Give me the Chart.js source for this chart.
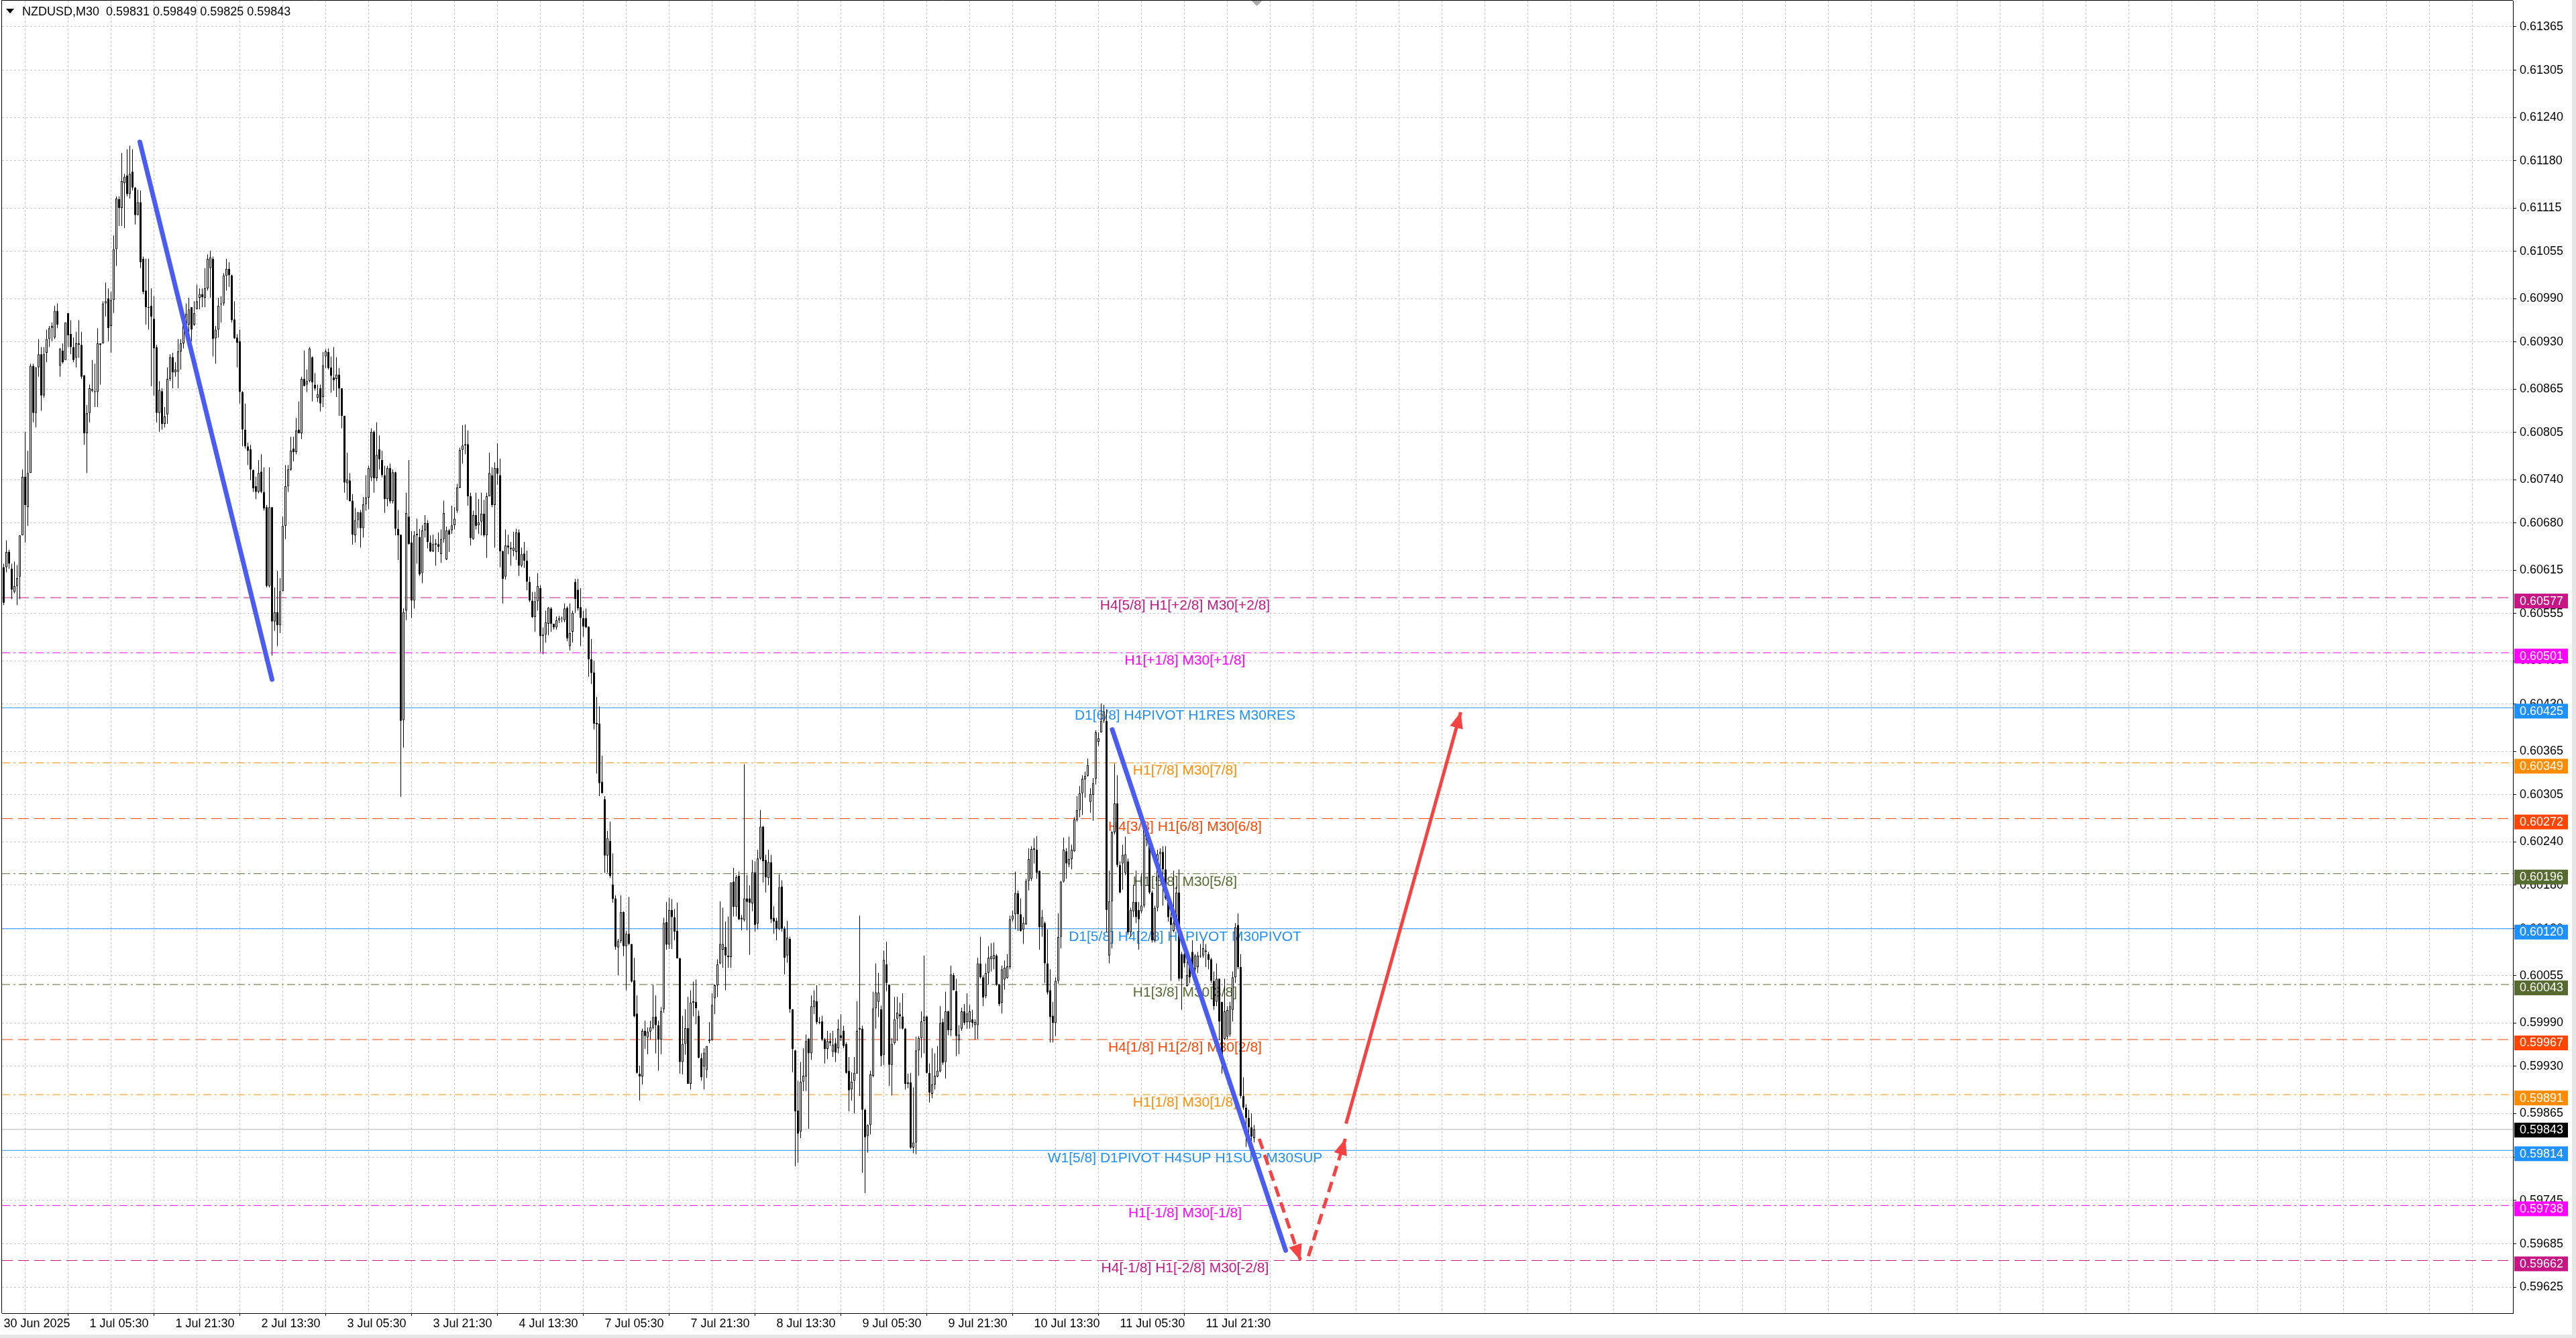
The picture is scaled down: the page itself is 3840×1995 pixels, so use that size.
<!DOCTYPE html>
<html>
<head>
<meta charset="utf-8">
<title>NZDUSD,M30</title>
<script src="https://cdn.jsdelivr.net/npm/chart.js@4.4.1/dist/chart.umd.min.js"></script>
<style>
  html, body { margin: 0; padding: 0; background: #fff; overflow: hidden; }
  #wrap { width: 3840px; height: 1995px; }
</style>
</head>
<body>
<div id="wrap"><canvas id="chart" width="3840" height="1995"></canvas></div>
<script>
/* NZDUSD M30 — velas + niveles Murrey + flechas de escenario
   Precios de las velas en puntos (x 1e-5), barra 0 = 30 Jun 13:30 */

const SYMBOL = 'NZDUSD,M30';

const OPEN = [
  60619,60619,60640,60617,60585,60593,60606,60663,60744,60702,
  60749,60897,60832,60895,60913,60856,60915,60934,60949,60936,
  60973,60897,60918,60905,60970,60941,60923,60908,60926,60926,
  60884,60804,60832,60862,60861,60861,60928,60928,60983,60990,
  60952,60988,61058,61127,61115,61149,61160,61134,61165,61143,
  61105,61123,61045,61001,60978,60980,60962,60923,60832,60862,
  60817,60830,60879,60909,60888,60889,60917,60928,60954,60954,
  60978,60954,60975,60991,60996,60991,61004,61032,61045,60935,
  60947,60982,60983,61021,61031,61022,60961,60936,60931,60861,
  60809,60786,60782,60753,60731,60723,60751,60723,60702,60593,
  60702,60544,60557,60539,60586,60676,60731,60754,60783,60778,
  60809,60804,60879,60871,60876,60909,60871,60853,60866,60854,
  60910,60916,60895,60881,60879,60885,60866,60828,60735,60739,
  60711,60663,60684,60695,60673,60706,60715,60743,60806,60742,
  60782,60767,60746,60713,60756,60710,60750,60672,60664,60408,
  60559,60689,60653,60573,60665,60661,60611,60670,60680,60653,
  60641,60650,60651,60637,60658,60630,60670,60670,60677,60697,
  60729,60781,60787,60789,60717,60658,60691,60677,60682,60693,
  60663,60717,60746,60705,60756,60746,60641,60606,60649,60646,
  60642,60640,60667,60621,60638,60628,60599,60573,60550,60572,
  60590,60524,60526,60541,60562,60541,60536,60546,60549,60546,
  60563,60510,60530,60599,60588,60564,60549,60549,60537,60492,
  60474,60404,60403,60323,60299,60221,60241,60181,60162,60094,
  60103,60143,60096,60113,60099,60049,60003,59920,59916,59979,
  59970,59978,59983,59999,59987,59967,60009,60129,60098,60146,
  60136,60117,60079,59936,59961,59983,59906,60018,60019,60000,
  59941,59930,59925,59965,59967,60024,60042,60072,60091,60095,
  60083,60081,60185,60150,60193,60133,60132,60162,60162,60155,
  60198,60127,60217,60261,60215,60190,60212,60135,60131,60120,
  60178,60120,60083,60106,60009,59952,59869,59840,59909,59916,
  59968,59948,60012,60020,59991,59992,59967,59954,59965,59950,
  59962,59955,59973,59979,59961,59924,59898,59910,59920,59981,
  59982,59870,59834,59849,59917,60010,60019,60009,59946,60071,
  60043,59932,59962,59996,60002,59999,59982,59906,59908,59818,
  59825,59952,59969,59993,59999,59921,59892,59905,59916,59923,
  59991,59936,60006,59980,60056,60034,59966,59982,60006,59991,
  59991,59995,59987,59987,60072,60053,60027,60059,60078,60078,
  60083,60043,60018,60050,60052,60067,60133,60140,60169,60140,
  60119,60126,60186,60189,60229,60229,60200,60122,60128,60072,
  60035,60000,59990,60048,60109,60185,60227,60209,60216,60227,
  60270,60284,60307,60326,60331,60295,60305,60327,60378,60391,
  60407,60407,60083,60158,60253,60293,60208,60210,60197,60213,
  60115,60144,60157,60146,60144,60152,60242,60242,60170,60104,
  60149,60223,60226,60202,60162,60136,60117,60125,60170,60085,
  60085,60041,60072,60088,60064,60067,60083,60083,60090,60085,
  60078,60048,60019,60051,60019,59968,59971,59974,60008,60053,
  60125,60067,59889,59873,59859,59846,59831
];

const HIGH = [
  60624,60656,60643,60624,60627,60622,60663,60754,60806,60780,
  60900,60900,60895,60934,60923,60923,60947,60952,60957,60980,
  60983,60921,60928,60957,60970,60960,60936,60944,60960,60944,
  60884,60843,60871,60905,60900,60949,60928,60986,61012,61004,
  60999,61077,61131,61131,61191,61162,61196,61201,61196,61144,
  61140,61139,61048,61045,61045,61004,60993,60926,60876,60866,
  60840,60895,60913,60915,60902,60934,60934,60970,60983,60991,
  60978,60986,61009,61004,61004,61032,61051,61056,61048,60952,
  60991,60993,61025,61045,61040,61023,60986,60941,60947,60862,
  60845,60791,60788,60754,60744,60767,60775,60757,60705,60757,
  60702,60591,60614,60604,60689,60760,60760,60799,60799,60825,
  60848,60882,60918,60892,60923,60910,60887,60871,60871,60916,
  60920,60921,60910,60923,60909,60894,60866,60828,60777,60749,
  60720,60701,60695,60698,60716,60746,60759,60811,60808,60819,
  60801,60780,60759,60759,60762,60754,60751,60698,60664,60562,
  60722,60767,60669,60669,60686,60672,60677,60691,60684,60663,
  60664,60658,60667,60671,60711,60675,60672,60704,60702,60734,
  60784,60815,60816,60808,60722,60697,60722,60713,60722,60712,
  60722,60777,60757,60764,60790,60769,60642,60671,60664,60654,
  60668,60672,60671,60646,60654,60642,60606,60585,60585,60611,
  60594,60536,60559,60564,60564,60541,60551,60552,60551,60569,
  60565,60569,60559,60603,60603,60590,60559,60562,60537,60520,
  60490,60440,60427,60359,60303,60255,60268,60224,60166,60106,
  60166,60144,60117,60164,60099,60080,60028,59931,59982,59993,
  59984,59993,60043,60028,59993,60012,60135,60157,60163,60161,
  60147,60156,60080,60000,60009,60026,60035,60047,60050,60007,
  59948,59955,59958,59991,60031,60043,60078,60158,60149,60130,
  60137,60184,60204,60194,60199,60139,60347,60194,60180,60215,
  60213,60229,60284,60262,60222,60229,60222,60151,60135,60195,
  60187,60123,60131,60109,60009,59953,59910,59936,59955,59974,
  59969,60028,60035,60042,59998,60000,59969,59979,59976,59979,
  59969,59995,60002,59986,59963,59943,59922,59943,60020,60138,
  59986,59872,59850,59924,60033,60072,60059,60014,60090,60102,
  60043,59969,60026,60026,60018,60031,59983,59920,59921,59901,
  59971,59972,60006,60083,60000,59934,59955,59948,59958,60013,
  59996,60033,60007,60069,60059,60051,59987,60011,60016,60031,
  60015,60008,59995,60080,60109,60056,60072,60096,60100,60101,
  60085,60044,60069,60076,60085,60138,60145,60199,60173,60162,
  60136,60189,60231,60234,60245,60248,60200,60146,60130,60119,
  60064,60019,60053,60141,60186,60246,60231,60247,60236,60274,
  60303,60317,60332,60337,60355,60314,60328,60394,60391,60431,
  60429,60423,60200,60255,60348,60332,60213,60236,60247,60217,
  60149,60181,60200,60157,60197,60263,60255,60245,60173,60152,
  60229,60231,60234,60234,60168,60144,60200,60178,60202,60088,
  60104,60083,60083,60104,60085,60088,60099,60104,60099,60088,
  60080,60061,60072,60051,60019,60051,60013,60019,60061,60128,
  60141,60085,59915,59878,59870,59865,59849
];

const LOW = [
  60567,60612,60617,60575,60583,60567,60575,60663,60653,60676,
  60749,60819,60812,60882,60835,60853,60902,60923,60931,60934,
  60949,60882,60900,60905,60923,60913,60902,60895,60908,60879,
  60788,60749,60819,60861,60840,60840,60871,60928,60965,60931,
  60915,60970,61035,61090,61090,61087,61131,61128,61139,61092,
  61105,61032,60996,60954,60947,60869,60856,60819,60806,60809,
  60812,60817,60876,60866,60882,60866,60892,60921,60952,60944,
  60931,60952,60975,60975,60978,60978,61001,60991,60910,60900,
  60936,60957,60980,61001,61006,60957,60934,60895,60845,60786,
  60783,60760,60739,60723,60713,60721,60721,60697,60591,60591,
  60497,60531,60510,60528,60586,60658,60723,60752,60765,60775,
  60804,60796,60869,60861,60874,60848,60863,60847,60834,60840,
  60894,60892,60860,60863,60854,60828,60811,60722,60712,60710,
  60650,60653,60673,60646,60660,60697,60699,60738,60722,60738,
  60754,60743,60694,60703,60707,60707,60663,60629,60302,60370,
  60546,60650,60549,60562,60624,60607,60597,60660,60645,60640,
  60640,60621,60640,60625,60653,60629,60640,60665,60671,60694,
  60728,60762,60775,60704,60649,60657,60671,60665,60663,60661,
  60632,60717,60702,60646,60733,60619,60569,60602,60637,60621,
  60634,60629,60607,60619,60618,60587,60571,60549,60530,60559,
  60502,60499,60515,60525,60530,60533,60533,60542,60543,60543,
  60517,60504,60515,60556,60559,60510,60523,60535,60468,60458,
  60395,60334,60303,60307,60197,60197,60190,60156,60091,60056,
  60100,60082,60035,60097,60046,59998,59920,59883,59905,59954,
  59947,59967,59981,59948,59924,59947,60004,60091,60092,60092,
  60104,60079,59920,59919,59946,59906,59898,59999,59988,59941,
  59910,59898,59914,59962,59965,60002,60026,60071,60066,60035,
  60066,60066,60137,60137,60132,60118,60130,60118,60084,60144,
  60116,60119,60215,60184,60170,60180,60128,60113,60104,60118,
  60116,60057,60073,60004,59922,59792,59797,59831,59896,59896,
  59844,59939,60002,59988,59988,59965,59934,59940,59958,59943,
  59936,59948,59965,59955,59920,59868,59883,59865,59920,59889,
  59783,59755,59811,59836,59915,59982,59998,59930,59932,60034,
  59903,59890,59960,59965,59982,59981,59898,59900,59816,59810,
  59809,59917,59942,59948,59920,59880,59886,59898,59915,59922,
  59932,59913,59973,59972,60035,59944,59947,59979,59987,59982,
  59982,59984,59967,59968,60051,60013,60024,60043,60061,60064,
  60041,60013,60003,60036,60051,60064,60130,60119,60117,60116,
  60099,60125,60173,60186,60210,60189,60091,60109,60045,60029,
  59963,59963,59972,60044,60093,60184,60189,60205,60202,60226,
  60268,60274,60277,60301,60330,60280,60269,60319,60372,60391,
  60404,60115,60072,60093,60250,60205,60169,60174,60194,60112,
  60109,60136,60128,60091,60141,60149,60234,60168,60101,60101,
  60144,60200,60152,60160,60130,60048,60115,60123,60048,60008,
  60067,60040,60045,60061,60056,60059,60080,60080,60067,60064,
  60045,60008,60013,59966,59920,59966,59968,59971,59992,60045,
  60064,59886,59870,59819,59825,59825,59825
];

const CLOSE = [
  60570,60640,60624,60588,60593,60604,60663,60744,60705,60749,
  60897,60832,60895,60913,60856,60913,60934,60949,60952,60973,
  60954,60921,60902,60957,60939,60923,60905,60928,60928,60882,
  60804,60832,60866,60865,60862,60928,60926,60983,60986,60949,
  60988,61058,61128,61115,61152,61158,61134,61162,61143,61105,
  61123,61040,60999,60978,60977,60965,60921,60832,60864,60817,
  60827,60879,60909,60888,60892,60917,60928,60954,60969,60975,
  60947,60970,60986,60996,60992,61004,61045,61047,60934,60947,
  60980,60983,61022,61031,61022,60960,60935,60929,60861,60809,
  60786,60780,60754,60728,60723,60749,60723,60700,60593,60702,
  60544,60557,60539,60586,60676,60731,60754,60780,60778,60808,
  60804,60879,60869,60876,60921,60874,60866,60858,60845,60898,
  60917,60894,60883,60877,60885,60866,60828,60736,60740,60710,
  60664,60684,60695,60673,60706,60715,60756,60806,60742,60774,
  60768,60746,60713,60756,60710,60750,60672,60663,60407,60557,
  60694,60651,60573,60663,60663,60609,60670,60680,60654,60641,
  60651,60652,60647,60658,60694,60670,60664,60677,60686,60729,
  60781,60787,60789,60717,60659,60691,60676,60681,60693,60663,
  60717,60749,60705,60756,60748,60641,60603,60649,60646,60644,
  60646,60667,60621,60637,60628,60599,60573,60550,60572,60593,
  60524,60526,60543,60563,60541,60536,60546,60549,60548,60562,
  60521,60528,60556,60575,60562,60549,60537,60536,60492,60473,
  60403,60402,60321,60307,60221,60245,60193,60161,60095,60103,
  60143,60096,60113,60099,60047,59999,59921,59916,59979,59972,
  59978,59984,59998,59987,59967,60006,60128,60098,60146,60136,
  60116,60079,59936,59961,59983,59906,60018,60020,60010,59942,
  59915,59949,59958,59967,60015,60042,60071,60099,60099,60083,
  60081,60184,60150,60191,60133,60135,60162,60157,60156,60198,
  60125,60217,60261,60213,60191,60212,60133,60130,60120,60177,
  60120,60080,60108,60009,59954,59868,59837,59909,59917,59965,
  59948,60013,60021,59991,59990,59967,59954,59965,59962,59960,
  59949,59982,59969,59958,59921,59897,59909,59921,59979,59983,
  59870,59832,59849,59919,60010,60032,60032,59944,60077,60045,
  59932,59961,59995,60004,59999,59982,59906,59908,59818,59825,
  59952,59969,59992,59999,59921,59894,59905,59917,59924,59990,
  59935,60006,59980,60057,60035,59972,59974,60006,59990,60003,
  60006,59990,59991,60072,60053,60025,60059,60080,60082,60084,
  60043,60016,60064,60066,60068,60133,60138,60169,60140,60117,
  60128,60186,60216,60230,60231,60197,60122,60136,60072,60032,
  59998,59990,60048,60109,60185,60229,60210,60216,60229,60271,
  60284,60307,60327,60331,60346,60306,60321,60391,60383,60407,
  60420,60146,60158,60253,60293,60208,60170,60222,60223,60115,
  60146,60157,60136,60133,60152,60258,60253,60170,60104,60149,
  60223,60226,60202,60162,60136,60125,60128,60170,60051,60051,
  60072,60056,60053,60064,60083,60083,60082,60093,60088,60077,
  60048,60013,60051,59992,59939,60006,60008,60013,60053,60122,
  60067,59889,59873,59859,59846,59833,59843
];

// Etiquetas del eje de tiempo (cada 32 barras)
const TIME_LABELS = ['30 Jun 2025','1 Jul 05:30','1 Jul 21:30','2 Jul 13:30','3 Jul 05:30',
  '3 Jul 21:30','4 Jul 13:30','7 Jul 05:30','7 Jul 21:30','8 Jul 13:30','9 Jul 05:30',
  '9 Jul 21:30','10 Jul 13:30','11 Jul 05:30','11 Jul 21:30'];
const TIME_LABEL_BARS = [0,32,64,96,128,160,192,224,256,288,320,352,384,416,448];

// Marcas del eje de precios
const PRICE_TICKS = [0.61365,0.61305,0.61240,0.61180,0.61115,0.61055,0.60990,0.60930,
  0.60865,0.60805,0.60740,0.60680,0.60615,0.60555,0.60490,0.60430,0.60365,0.60305,
  0.60240,0.60180,0.60120,0.60055,0.59990,0.59930,0.59865,0.59805,0.59745,0.59685,0.59625];

// Niveles Murrey
const LEVEL_PRICES = [0.60577,0.60501,0.60425,0.60349,0.60272,0.60196,0.60120,
  0.60043,0.59967,0.59891,0.59814,0.59738,0.59662];
const LEVEL_TEXTS = [
  'H4[5/8] H1[+2/8] M30[+2/8]',
  'H1[+1/8] M30[+1/8]',
  'D1[6/8] H4PIVOT H1RES M30RES',
  'H1[7/8] M30[7/8]',
  'H4[3/8] H1[6/8] M30[6/8]',
  'H1[5/8] M30[5/8]',
  'D1[5/8] H4[2/8] H1PIVOT M30PIVOT',
  'H1[3/8] M30[3/8]',
  'H4[1/8] H1[2/8] M30[2/8]',
  'H1[1/8] M30[1/8]',
  'W1[5/8] D1PIVOT H4SUP H1SUP M30SUP',
  'H1[-1/8] M30[-1/8]',
  'H4[-1/8] H1[-2/8] M30[-2/8]'
];

// Líneas de tendencia y flechas: [barra, precio]
const BLUE_LINES = [
  [[50.75, 0.61206], [100, 0.60464]],
  [[413.1, 0.60395], [477.75, 0.59676]]
];
const RED_LEGS = [
  [[467.9, 0.59830], [483.3, 0.59662]],
  [[486.25, 0.59668], [500, 0.59830]],
  [[500.25, 0.59851], [543, 0.60419]]
];

// ── estilos ─────────────────────────────────────────────
const DASH = [16, 8], DASHDOT = [12, 5, 3, 5], SOLID = [];
const LEVEL_COLORS = ['#C71585','#FF00FF','#1E90FF','#FF8C00','#FF4500','#556B2F','#1E90FF',
  '#556B2F','#FF4500','#FF8C00','#1E90FF','#FF00FF','#C71585'];
const LEVEL_DASHES = [DASH, DASHDOT, SOLID, DASHDOT, DASH, DASHDOT, SOLID, DASHDOT, DASH, DASHDOT, SOLID, DASHDOT, DASH];
const RED_DASHES = [[16, 9], [16, 9], []];
const LABEL_BAR = 440.25;           // centro de los textos de nivel
const X_MIN = -0.625, X_MAX = 935.125;
const Y_MIN = 0.595893, Y_MAX = 0.614011;
const FONT = '"Liberation Sans", Arial, sans-serif';

const px = v => v / 100000;
const N = OPEN.length;
const last = N - 1;
const CURRENT = px(CLOSE[last]);

const bodies = OPEN.map((o, i) => ({ x: i, y: [px(o), px(CLOSE[i])] }));
const wicks = OPEN.map((o, i) => ({
  x: i,
  y: [px(Math.min(LOW[i], o, CLOSE[i])), px(Math.max(HIGH[i], o, CLOSE[i]))]
}));
const bodyFill = OPEN.map((o, i) => CLOSE[i] >= o ? '#FFFFFF' : '#000000');

const gridBars = [];
for (let b = 0; b <= X_MAX; b += 16) gridBars.push(b);

const levelSets = LEVEL_PRICES.map((p, k) => ({
  type: 'line',
  data: [{ x: X_MIN, y: p }, { x: X_MAX, y: p }],
  borderColor: LEVEL_COLORS[k],
  borderWidth: 1,
  borderDash: LEVEL_DASHES[k],
  pointRadius: 0,
  fill: false,
  order: 5
}));

const currentSet = {
  type: 'line',
  data: [{ x: X_MIN, y: CURRENT }, { x: X_MAX, y: CURRENT }],
  borderColor: '#B4B4B4', borderWidth: 1, pointRadius: 0, fill: false, order: 5
};

const blueSets = BLUE_LINES.map(seg => ({
  type: 'line',
  data: seg.map(([x, y]) => ({ x, y })),
  borderColor: '#4B5CF2', borderWidth: 7, borderCapStyle: 'round',
  pointRadius: 0, fill: false, order: -1
}));

const redSets = RED_LEGS.map((seg, k) => ({
  type: 'line',
  data: seg.map(([x, y]) => ({ x, y })),
  borderColor: '#F44343', borderWidth: 5, borderDash: RED_DASHES[k], borderCapStyle: 'butt',
  pointRadius: 0, fill: false, order: -2
}));

// sin relleno automático: el área del gráfico queda fija
function noPad(s) {
  s.paddingTop = 0; s.paddingBottom = 0; s.paddingLeft = 0; s.paddingRight = 0;
}

// ── plugin: textos, etiquetas de precio, flechas, título ─────
const mtPlugin = {
  id: 'mtPlugin',
  beforeDatasetsDraw(chart) {
    const { ctx, scales: { x, y } } = chart;
    ctx.save();
    ctx.font = '21px ' + FONT;
    ctx.textAlign = 'center';
    ctx.textBaseline = 'alphabetic';
    LEVEL_PRICES.forEach((p, k) => {
      ctx.fillStyle = LEVEL_COLORS[k];
      ctx.fillText(LEVEL_TEXTS[k], x.getPixelForValue(LABEL_BAR), y.getPixelForValue(p) + 18);
    });
    ctx.restore();
  },
  afterDatasetsDraw(chart) {
    const { ctx, scales: { x, y } } = chart;
    ctx.save();
    ctx.fillStyle = '#F44343';
    RED_LEGS.forEach(seg => {
      const x0 = x.getPixelForValue(seg[0][0]), y0 = y.getPixelForValue(seg[0][1]);
      const x1 = x.getPixelForValue(seg[1][0]), y1 = y.getPixelForValue(seg[1][1]);
      const a = Math.atan2(y1 - y0, x1 - x0);
      const len = 24, half = 10;
      const bx = x1 - len * Math.cos(a), by = y1 - len * Math.sin(a);
      ctx.beginPath();
      ctx.moveTo(x1, y1);
      ctx.lineTo(bx + half * Math.sin(a), by - half * Math.cos(a));
      ctx.lineTo(bx - half * Math.sin(a), by + half * Math.cos(a));
      ctx.closePath();
      ctx.fill();
    });
    ctx.restore();
  },
  afterDraw(chart) {
    const { ctx, chartArea: a, scales: { x, y } } = chart;
    ctx.save();
    // marco
    ctx.strokeStyle = '#000';
    ctx.lineWidth = 1;
    ctx.beginPath();
    ctx.moveTo(a.left - 0.5, a.bottom);
    ctx.lineTo(a.left - 0.5, a.top - 0.5);
    ctx.lineTo(a.right, a.top - 0.5);
    ctx.stroke();

    // etiquetas de precio en el eje
    ctx.font = '18px ' + FONT;
    ctx.textAlign = 'left';
    ctx.textBaseline = 'middle';
    LEVEL_PRICES.forEach((p, k) => {
      const py = y.getPixelForValue(p);
      ctx.fillStyle = LEVEL_COLORS[k];
      ctx.fillRect(a.right + 2, py - 6, 80, 22);
      ctx.fillStyle = '#fff';
      ctx.fillText(p.toFixed(5), a.right + 10, py + 5.5);
    });
    const cy = y.getPixelForValue(CURRENT);
    ctx.fillStyle = '#000';
    ctx.fillRect(a.right + 2, cy - 10, 80, 22);
    ctx.fillStyle = '#fff';
    ctx.fillText(CURRENT.toFixed(5), a.right + 10, cy + 1.5);

    // marcador de desplazamiento
    const sx = x.getPixelForValue(N);
    ctx.fillStyle = '#A8A8A8';
    ctx.beginPath();
    ctx.moveTo(sx - 8, a.top);
    ctx.lineTo(sx + 8, a.top);
    ctx.lineTo(sx, a.top + 8);
    ctx.closePath();
    ctx.fill();

    // título
    ctx.fillStyle = '#000';
    ctx.beginPath();
    ctx.moveTo(9, 13); ctx.lineTo(21, 13); ctx.lineTo(15, 20);
    ctx.closePath();
    ctx.fill();
    ctx.font = '18px ' + FONT;
    ctx.textBaseline = 'alphabetic';
    const ohlc = [OPEN[last], HIGH[last], LOW[last], CLOSE[last]].map(v => px(v).toFixed(5)).join(' ');
    ctx.fillText(SYMBOL + '  ' + ohlc, 33, 23);

    // borde de ventana
    ctx.fillStyle = '#E6E6E6';
    ctx.fillRect(3834, 0, 6, 1995);
    ctx.fillRect(0, 1990, 3840, 5);
    ctx.restore();
  }
};

new Chart(document.getElementById('chart'), {
  type: 'bar',
  data: {
    datasets: [
      {
        type: 'bar', data: bodies, backgroundColor: bodyFill, borderColor: '#000',
        borderWidth: 1, borderSkipped: false, barThickness: 3, minBarLength: 1,
        inflateAmount: 0, grouped: false, order: 1
      },
      {
        type: 'bar', data: wicks, backgroundColor: '#000', borderWidth: 0,
        barThickness: 1, inflateAmount: 0, grouped: false, order: 2
      },
      ...levelSets,
      currentSet,
      ...blueSets,
      ...redSets
    ]
  },
  options: {
    responsive: false,
    devicePixelRatio: 1,
    animation: false,
    events: [],
    layout: { padding: { left: 3, top: 1, right: 0, bottom: 0 } },
    plugins: { legend: { display: false }, tooltip: { enabled: false } },
    scales: {
      x: {
        type: 'linear', min: X_MIN, max: X_MAX, offset: false,
        afterBuildTicks: s => { s.ticks = gridBars.map(v => ({ value: v })); },
        afterFit: s => { s.height = 37; noPad(s); },
        ticks: {
          autoSkip: false, maxRotation: 0, minRotation: 0, align: 'start', padding: 1,
          color: '#000', font: { family: FONT, size: 18 },
          callback: v => {
            const k = TIME_LABEL_BARS.indexOf(v);
            return k >= 0 ? TIME_LABELS[k] : '';
          }
        },
        grid: {
          color: '#C4C4C4', lineWidth: 1, tickLength: 4,
          tickColor: c => (c.tick && TIME_LABEL_BARS.includes(c.tick.value)) ? '#000' : 'rgba(0,0,0,0)'
        },
        border: { display: true, color: '#000', width: 1, dash: [3, 3] }
      },
      y: {
        type: 'linear', position: 'right', min: Y_MIN, max: Y_MAX,
        afterBuildTicks: s => { s.ticks = PRICE_TICKS.map(v => ({ value: v })); },
        afterFit: s => { s.width = 94; noPad(s); },
        ticks: {
          autoSkip: false, padding: 5, crossAlign: 'near', color: '#000',
          font: { family: FONT, size: 18 },
          callback: v => Number(v).toFixed(5)
        },
        grid: { color: '#C4C4C4', lineWidth: 1, tickLength: 5, tickColor: '#000' },
        border: { display: true, color: '#000', width: 1, dash: [3, 3] }
      }
    }
  },
  plugins: [mtPlugin]
});
</script>
</body>
</html>
